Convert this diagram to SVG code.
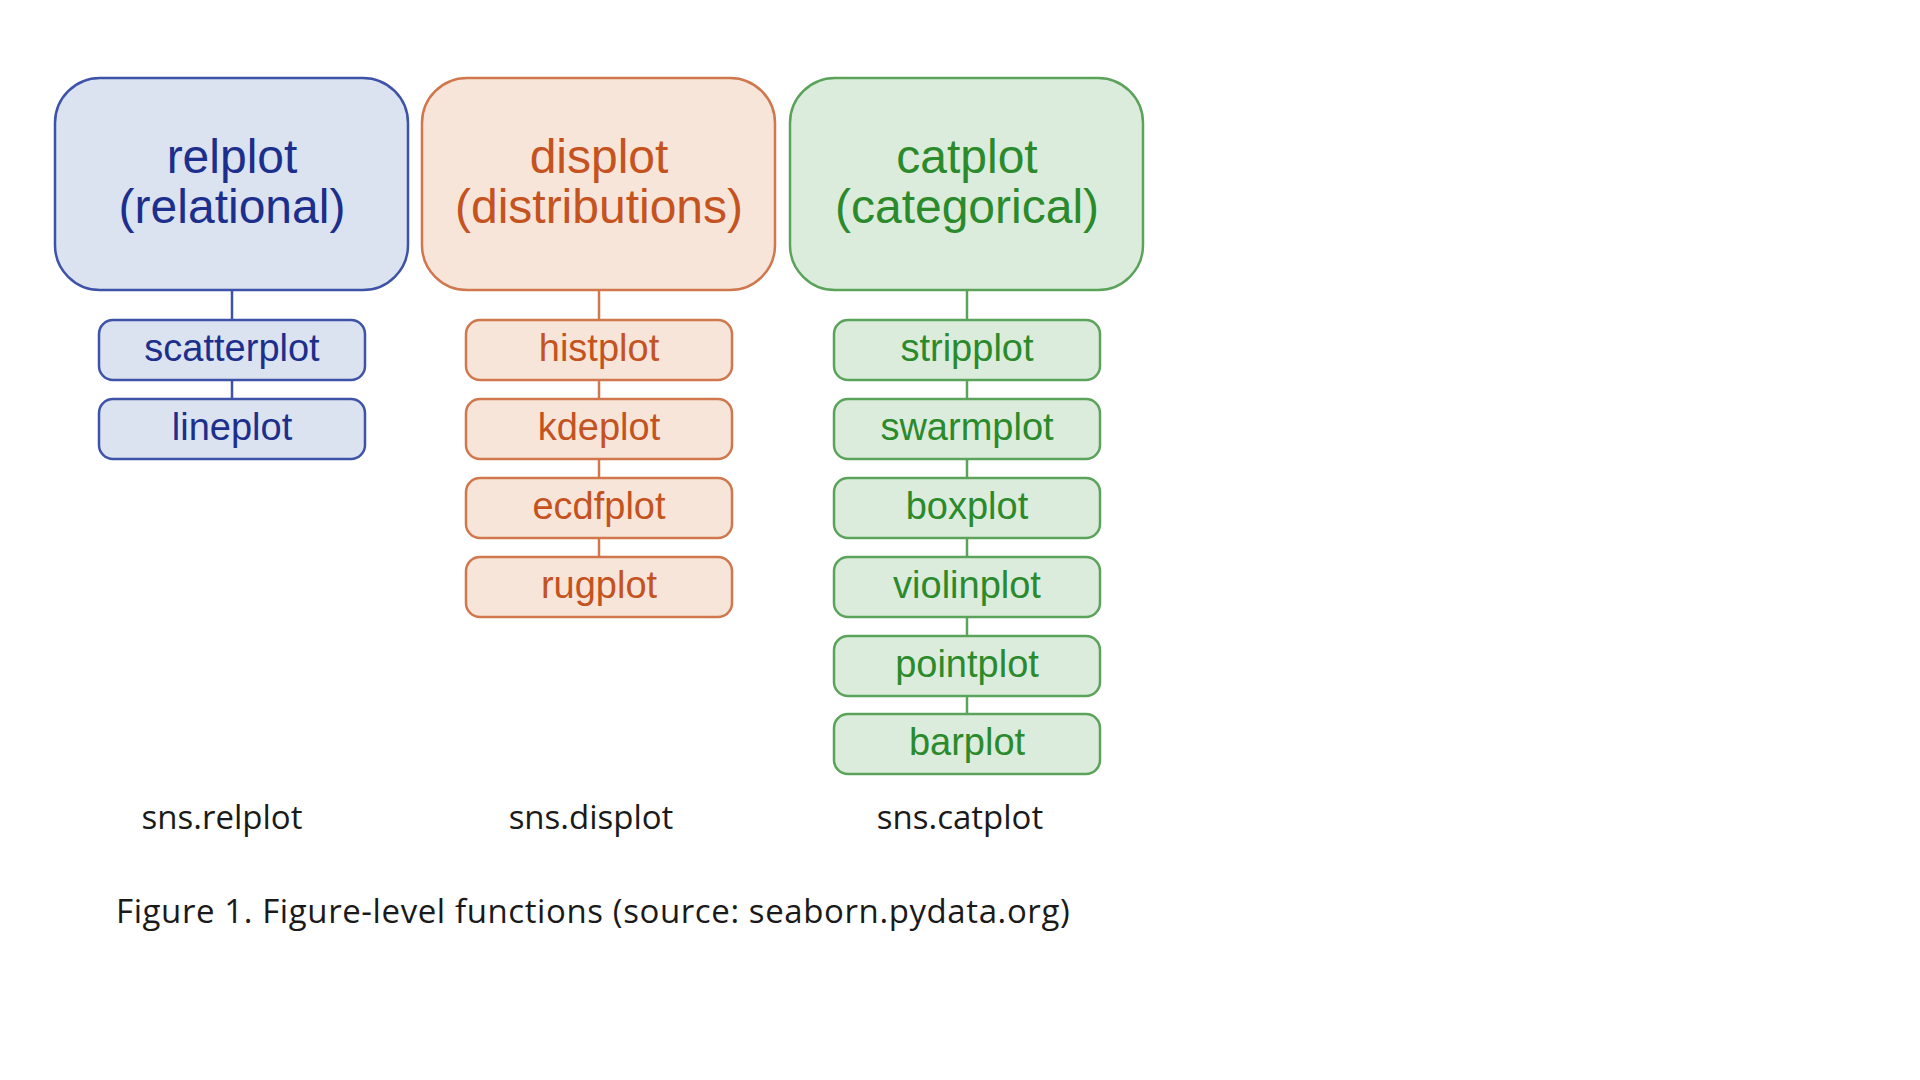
<svg xmlns="http://www.w3.org/2000/svg" width="1920" height="1080" viewBox="0 0 1920 1080">
<style>
.big{stroke-width:2.5}
.sm{stroke-width:2.5}
.t{font-family:"Liberation Sans",Arial,sans-serif;text-anchor:middle}
.bt{font-size:48px}
.st{font-size:38px}
.blue rect{fill:#dbe3f1;stroke:#3e52a8}
.blue text{fill:#1d2f8c}
.orange rect{fill:#f8e5da;stroke:#d0774d}
.orange text{fill:#c4531f}
.green rect{fill:#dcecdc;stroke:#5ba35b}
.green text{fill:#2b8a2b}
.cb{stroke:#3e52a8}
.co{stroke:#d0774d}
.cg{stroke:#5ba35b}
#connectors line{stroke-width:2.5}
.lab{font-family:"Open Sans","Noto Sans",sans-serif;fill:#1a1a1a;font-size:33px}
.cap{letter-spacing:0.6px}
</style>
<rect width="1920" height="1080" fill="#ffffff"/>
<g id="connectors">
<line class="cb" x1="232" y1="290" x2="232" y2="320"/>
<line class="cb" x1="232" y1="380" x2="232" y2="399"/>
<line class="co" x1="599" y1="290" x2="599" y2="320"/>
<line class="co" x1="599" y1="380" x2="599" y2="399"/>
<line class="co" x1="599" y1="459" x2="599" y2="478"/>
<line class="co" x1="599" y1="538" x2="599" y2="557"/>
<line class="cg" x1="967" y1="290" x2="967" y2="320"/>
<line class="cg" x1="967" y1="380" x2="967" y2="399"/>
<line class="cg" x1="967" y1="459" x2="967" y2="478"/>
<line class="cg" x1="967" y1="538" x2="967" y2="557"/>
<line class="cg" x1="967" y1="617" x2="967" y2="636"/>
<line class="cg" x1="967" y1="696" x2="967" y2="714"/>
</g>
<g class="blue">
<g id="relplot"><rect class="big" x="55" y="78" width="353" height="212" rx="45"/><text class="t bt" x="232" y="173">relplot</text><text class="t bt" x="232" y="223">(relational)</text></g>
<g id="scatterplot"><rect class="sm" x="99" y="320" width="266" height="60" rx="14"/><text class="t st" x="232" y="361">scatterplot</text></g>
<g id="lineplot"><rect class="sm" x="99" y="399" width="266" height="60" rx="14"/><text class="t st" x="232" y="440">lineplot</text></g>
</g>
<g class="orange">
<g id="displot"><rect class="big" x="422" y="78" width="353" height="212" rx="45"/><text class="t bt" x="599" y="173">displot</text><text class="t bt" x="599" y="223">(distributions)</text></g>
<g id="histplot"><rect class="sm" x="466" y="320" width="266" height="60" rx="14"/><text class="t st" x="599" y="361">histplot</text></g>
<g id="kdeplot"><rect class="sm" x="466" y="399" width="266" height="60" rx="14"/><text class="t st" x="599" y="440">kdeplot</text></g>
<g id="ecdfplot"><rect class="sm" x="466" y="478" width="266" height="60" rx="14"/><text class="t st" x="599" y="519">ecdfplot</text></g>
<g id="rugplot"><rect class="sm" x="466" y="557" width="266" height="60" rx="14"/><text class="t st" x="599" y="598">rugplot</text></g>
</g>
<g class="green">
<g id="catplot"><rect class="big" x="790" y="78" width="353" height="212" rx="45"/><text class="t bt" x="967" y="173">catplot</text><text class="t bt" x="967" y="223">(categorical)</text></g>
<g id="stripplot"><rect class="sm" x="834" y="320" width="266" height="60" rx="14"/><text class="t st" x="967" y="361">stripplot</text></g>
<g id="swarmplot"><rect class="sm" x="834" y="399" width="266" height="60" rx="14"/><text class="t st" x="967" y="440">swarmplot</text></g>
<g id="boxplot"><rect class="sm" x="834" y="478" width="266" height="60" rx="14"/><text class="t st" x="967" y="519">boxplot</text></g>
<g id="violinplot"><rect class="sm" x="834" y="557" width="266" height="60" rx="14"/><text class="t st" x="967" y="598">violinplot</text></g>
<g id="pointplot"><rect class="sm" x="834" y="636" width="266" height="60" rx="14"/><text class="t st" x="967" y="677">pointplot</text></g>
<g id="barplot"><rect class="sm" x="834" y="714" width="266" height="60" rx="14"/><text class="t st" x="967" y="755">barplot</text></g>
</g>
<g id="labels">
<text class="lab" x="222" y="829" text-anchor="middle">sns.relplot</text>
<text class="lab" x="591" y="829" text-anchor="middle">sns.displot</text>
<text class="lab" x="960" y="829" text-anchor="middle">sns.catplot</text>
<text class="lab cap" x="116" y="923">Figure 1. Figure-level functions (source: seaborn.pydata.org)</text>
</g>
</svg>
